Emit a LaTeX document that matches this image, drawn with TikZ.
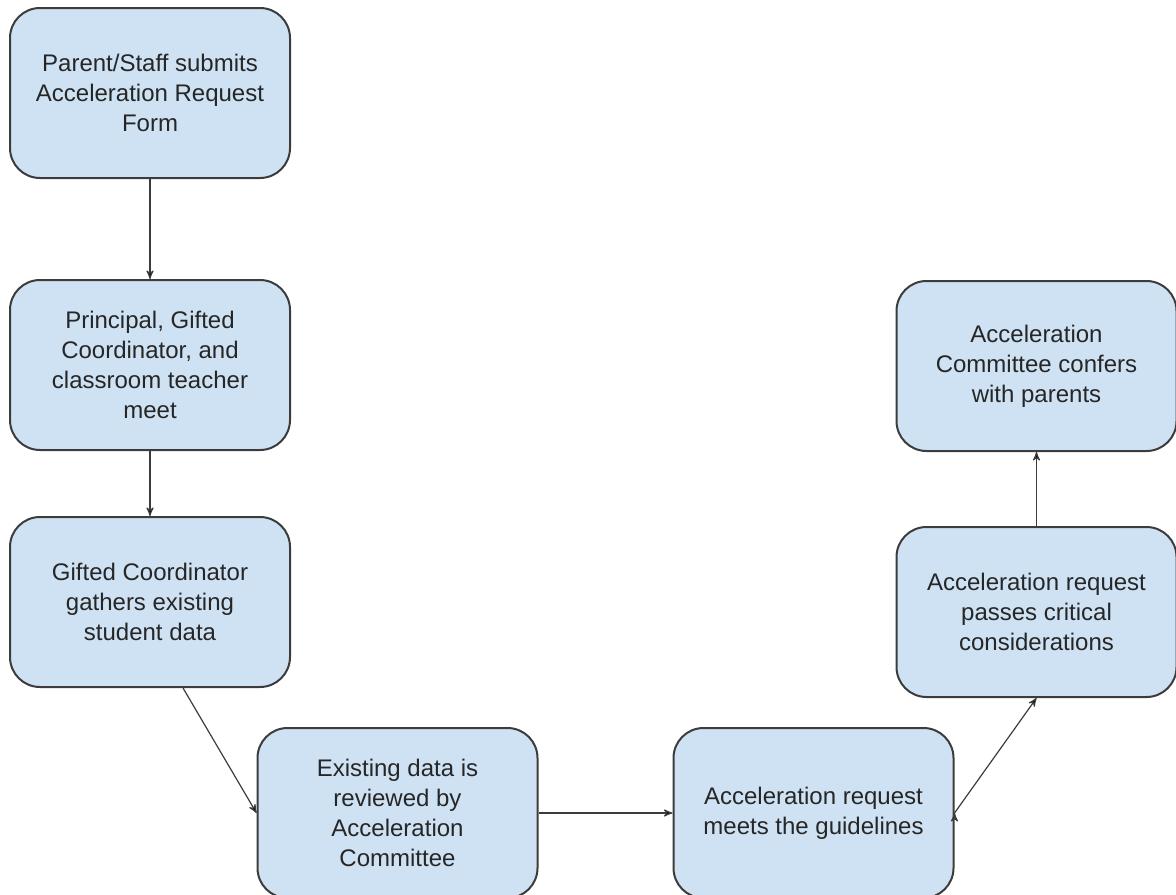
\documentclass[tikz,border=0pt]{standalone}
\usepackage{fontspec}
\setmainfont{Liberation Sans}
\usetikzlibrary{arrows,positioning}
\definecolor{stepblue}{RGB}{207,226,243}
\definecolor{edgegray}{RGB}{60,60,60}

\begin{document}
\begin{tikzpicture}[->,>=stealth',shorten >=0pt,auto,semithick]
    \tikzset{stage/.style={draw=edgegray,line width=1pt,fill=stepblue,
        rounded corners=15pt,minimum width=140pt,minimum height=85pt,
        align=center,text=black!85,font=\fontsize{12}{15}\selectfont}}
    \useasboundingbox (0,0) rectangle (588pt,-447pt);
    \node[stage] (A) at (75pt,-46.5pt) {Parent/Staff submits\\Acceleration Request\\Form};
    \node[stage] (B) [node distance=136pt,below of=A] {Principal, Gifted\\Coordinator, and\\classroom teacher\\meet};
    \node[stage] (C) [node distance=118.5pt,below of=B] {Gifted Coordinator\\gathers existing\\student data};
    \node[stage] (D) [node distance=123.75pt,right of=C,yshift=-105.5pt] {Existing data is\\reviewed by\\Acceleration\\Committee};
    \node[stage] (E) [node distance=208pt,right of=D] {Acceleration request\\meets the guidelines};
    \node[stage] (F) [node distance=111.5pt,right of=E,yshift=100.5pt] {Acceleration request\\passes critical\\considerations};
    \node[stage] (G) [node distance=123pt,above of=F] {Acceleration\\Committee confers\\with parents};
    \path[draw=edgegray]
    (A) edge node{} (B)
    (B) edge node{} (C)
    (C.-69) edge node{} (D.west)
    (D) edge node{} (E)
    (E.east) edge node{} (F.south)
    (F) edge node{} (G);
\end{tikzpicture}
\end{document}
